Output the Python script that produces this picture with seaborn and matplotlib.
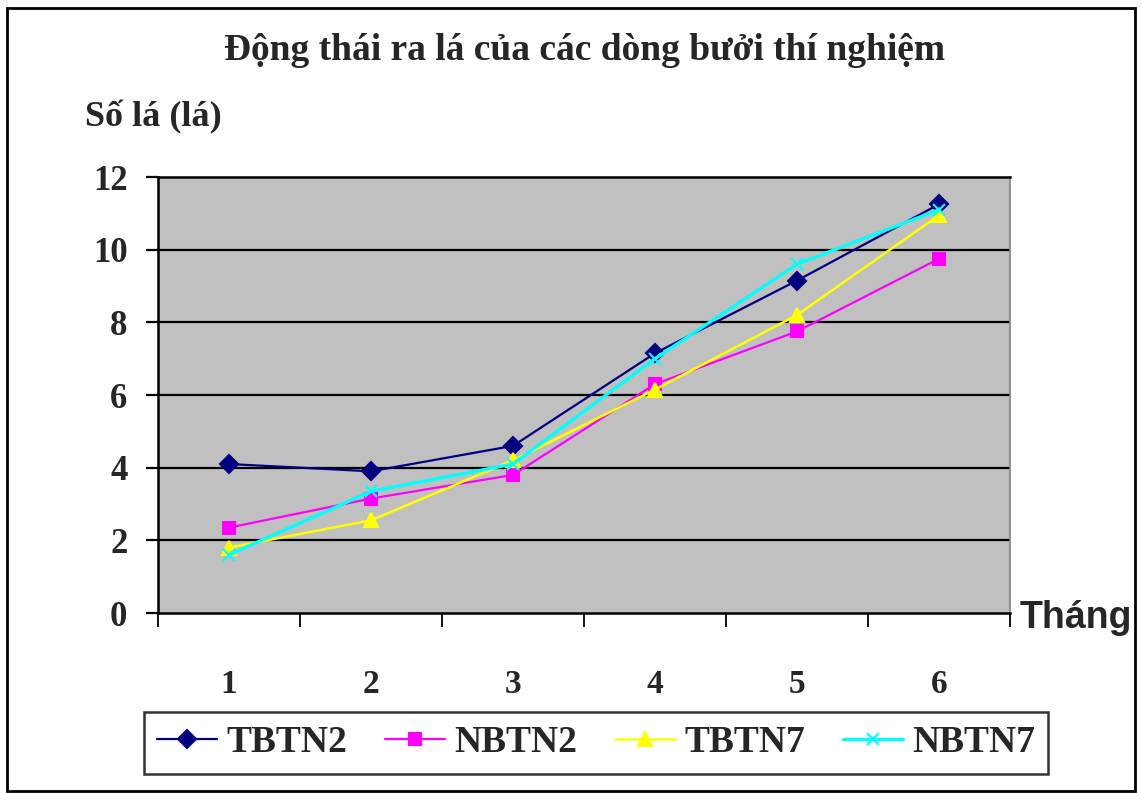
import matplotlib
matplotlib.use("Agg")
import matplotlib.pyplot as plt
from matplotlib.patches import Rectangle
from matplotlib.ticker import FixedLocator, NullFormatter
import seaborn as sns
import pandas as pd

months = [1, 2, 3, 4, 5, 6]
month_labels = ["1", "2", "3", "4", "5", "6"]
tbtn2 = [4.1, 3.9, 4.6, 7.15, 9.15, 11.25]
nbtn2 = [2.35, 3.15, 3.8, 6.3, 7.75, 9.75]
tbtn7 = [1.8, 2.55, 4.2, 6.15, 8.2, 10.95]
nbtn7 = [1.6, 3.35, 4.1, 7.0, 9.6, 11.1]
series_names = ["TBTN2", "NBTN2", "TBTN7", "NBTN7"]
y_ticks = [0, 2, 4, 6, 8, 10, 12]

df = pd.DataFrame({
    "Tháng": months * 4,
    "Số lá": tbtn2 + nbtn2 + tbtn7 + nbtn7,
    "Dòng": [n for n in series_names for _ in months],
})

sns.set_theme(style="white")
plt.rcParams["font.family"] = ["Liberation Serif", "DejaVu Serif"]

fig = plt.figure(figsize=(11.42, 7.93), dpi=100)
fig.patch.set_facecolor("white")
ax = fig.add_axes([158 / 1142, 1 - 613 / 793, 852 / 1142, 436 / 793])
ax.set_facecolor("#C0C0C0")

styles = {
    "TBTN2": dict(color="#000080", marker="D", ms=9, lw=1.6),
    "NBTN2": dict(color="#FF00FF", marker="s", ms=9, lw=1.6),
    "TBTN7": dict(color="#FFFF00", marker="^", ms=10.5, lw=1.8),
    "NBTN7": dict(color="#00FFFF", marker="x", ms=9, lw=2.4),
}

for name in series_names:
    st = styles[name]
    sns.lineplot(
        data=df[df["Dòng"] == name], x="Tháng", y="Số lá", ax=ax,
        color=st["color"], marker=st["marker"], markersize=st["ms"],
        linewidth=st["lw"], markeredgecolor=st["color"],
        markeredgewidth=1.5, label=name, zorder=3,
    )

ax.set_xlim(0.5, 6.5)
ax.set_ylim(0, 12)
ax.set_xlabel("")
ax.set_ylabel("")

# horizontal gridlines
for v in y_ticks[1:-1]:
    ax.axhline(v, color="black", lw=1.6, zorder=1)

# category boundaries carry tick marks, labels sit at centres
ax.xaxis.set_major_locator(FixedLocator([0.5 + i for i in range(7)]))
ax.xaxis.set_major_formatter(NullFormatter())
ax.xaxis.set_minor_locator(FixedLocator(months))
ax.set_xticklabels(month_labels, minor=True)
ax.tick_params(axis="x", which="major", direction="out", length=10, width=1.3,
               color="black", bottom=True)
ax.tick_params(axis="x", which="minor", length=0, pad=40, labelsize=24,
               bottom=True)
for lab in ax.get_xticklabels(minor=True):
    lab.set_fontweight("bold")

ax.set_yticks(y_ticks)
ax.set_yticklabels([str(v) for v in y_ticks], fontsize=25, fontweight="bold")
ax.tick_params(axis="y", direction="out", length=9, width=1.6, color="black",
               pad=13, left=True)

for side in ["left", "bottom", "top"]:
    ax.spines[side].set_color("black")
    ax.spines[side].set_linewidth(1.8)
ax.spines["right"].set_color("#808080")
ax.spines["right"].set_linewidth(1.2)

fig.text(585 / 1142, 1 - 50 / 793, "Động thái ra lá của các dòng bưởi thí nghiệm",
         ha="center", va="center", fontsize=27, fontweight="bold")
fig.text(85 / 1142, 1 - 117 / 793, "Số lá (lá)", ha="left", va="center",
         fontsize=26, fontweight="bold")
fig.text(1020 / 1142, 1 - 618 / 793, "Tháng", ha="left", va="center",
         fontsize=27, fontweight="bold",
         family=["Liberation Sans", "DejaVu Sans"])

leg = ax.legend(loc="center", bbox_to_anchor=(596 / 1142, 1 - 743 / 793),
                bbox_transform=fig.transFigure, ncol=4, frameon=True,
                fancybox=False, edgecolor="black", handlelength=1.6,
                handletextpad=0.25, columnspacing=1.0, borderpad=0.35,
                prop={"family": "Liberation Serif", "weight": "bold", "size": 27})
leg.get_frame().set_linewidth(1.8)

fig.patches.append(Rectangle((7 / 1142, 2 / 793), 1128 / 1142, 783 / 793,
                             transform=fig.transFigure, fill=False,
                             edgecolor="black", lw=2))

fig.savefig("out.png", dpi=100, facecolor="white")
